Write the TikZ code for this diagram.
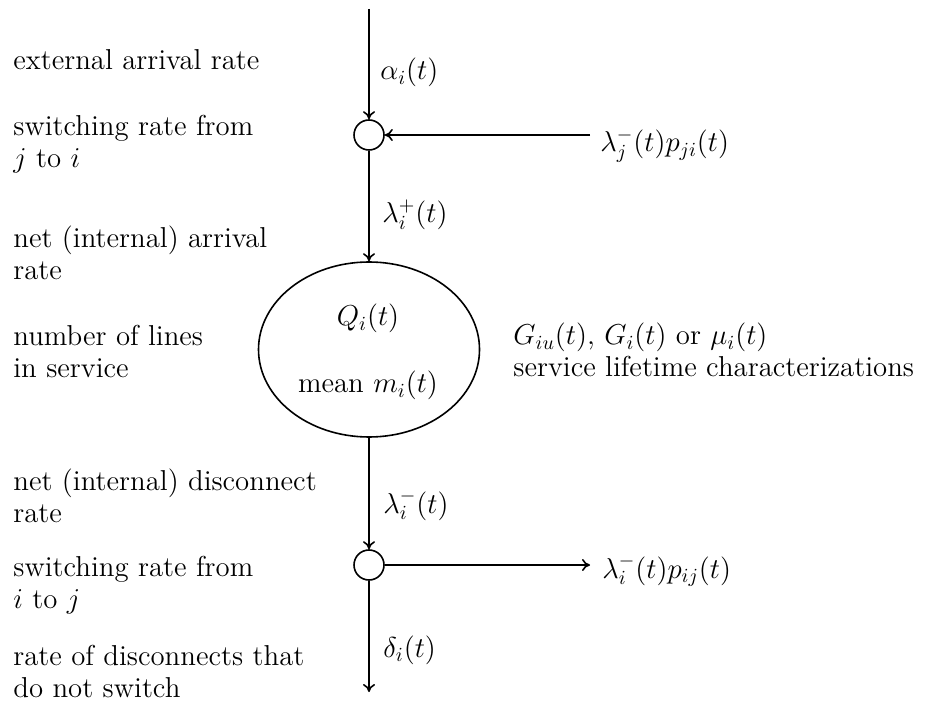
\documentclass[tikz,border=0pt]{standalone}
\usetikzlibrary{shapes.geometric,arrows.meta}
\begin{document}
\begin{tikzpicture}[x=0.5pt,y=-0.5pt,
  every node/.style={font=\fontsize{14.4}{16}\selectfont},
  lbl/.style={anchor=base west,inner sep=0pt,align=left},
  mlbl/.style={anchor=base west,inner sep=0pt},
  junction/.style={draw,circle,line width=0.8pt,minimum size=15pt,inner sep=0pt},
  queue/.style={draw,ellipse,line width=0.8pt,minimum width=110.5pt,minimum height=87.5pt,inner sep=0pt},
  flow/.style={line width=0.8pt,-{To[length=4pt,width=6pt]}}]
\useasboundingbox (0,0) rectangle (929,704);
% structure
\coordinate (top) at (369,9);
\node[junction] (c1) at (369,135) {};
\node[queue] (q) at (369,349.5) {};
\node[junction] (c2) at (369,565) {};
\coordinate (bot) at (369,692);
\coordinate (in) at (590,135);
\coordinate (out) at (590,565);
\draw[flow] (top) -- (c1);
\draw[flow] (in) -- (c1);
\draw[flow] (c1) -- (q.north);
\draw[flow] (q.south) -- (c2);
\draw[flow] (c2) -- (out);
\draw[flow] (c2) -- (bot);
% labels inside ellipse
\node[anchor=base,inner sep=0pt] (qlab) at (368,326) {$Q_i(t)$};
\node[anchor=base,inner sep=0pt] (mlab) at (368,393) {mean $m_i(t)$};
% flow labels
\node[mlbl] (alab) at (380,80) {$\alpha_i(t)$};
\node[mlbl] (inlab) at (600,152) {$\lambda_j^-(t)p_{ji}(t)$};
\node[mlbl] (lplab) at (382,223) {$\lambda_i^+(t)$};
\node[mlbl] (lmlab) at (383,513) {$\lambda_i^-(t)$};
\node[mlbl] (outlab) at (602,578) {$\lambda_i^-(t)p_{ij}(t)$};
\node[mlbl] (dlab) at (383,657) {$\delta_i(t)$};
\node[lbl] (serv) at (513,377) {$G_{iu}(t)$, $G_i(t)$ or $\mu_i(t)$\\service lifetime characterizations};
% left descriptions (anchor = baseline of last line)
\node[lbl] (d1) at (13,70) {external arrival rate};
\node[lbl] (d2) at (13,168) {switching rate from\\$j$ to $i$};
\node[lbl] (d3) at (13,280) {net (internal) arrival\\rate};
\node[lbl] (d4) at (13,378) {number of lines\\in service};
\node[lbl] (d5) at (13,522) {net (internal) disconnect\\rate};
\node[lbl] (d6) at (13,608) {switching rate from\\$i$ to $j$};
\node[lbl] (d7) at (13,697) {rate of disconnects that\\do not switch};
\end{tikzpicture}
\end{document}
